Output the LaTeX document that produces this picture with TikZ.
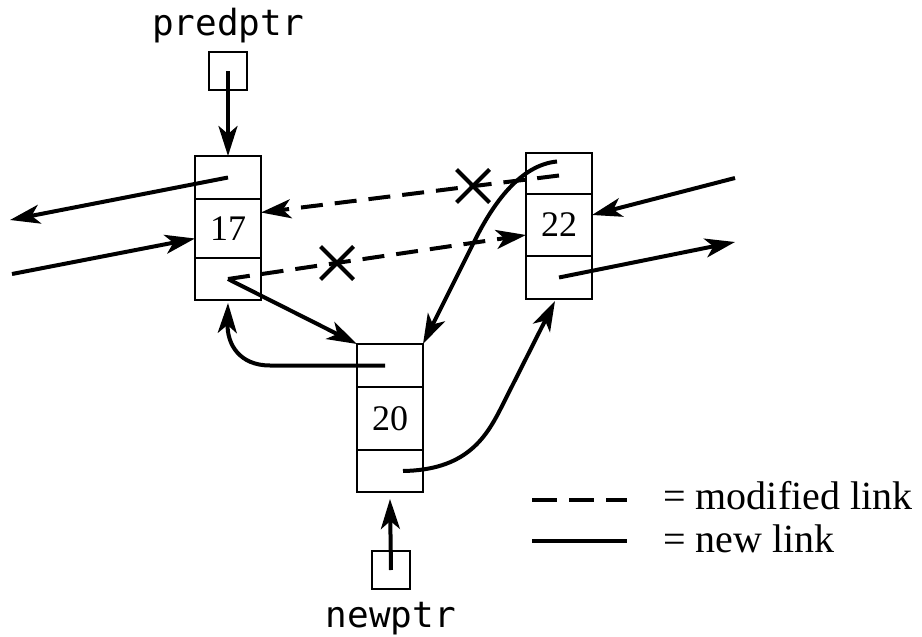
\documentclass[tikz,border=0pt]{standalone}
\usepackage{fontspec}
\setmainfont{Liberation Serif}
\newfontfamily\ptrmono{DejaVu Sans Mono}
\usetikzlibrary{arrows.meta,shapes.misc}
\begin{document}
\begin{tikzpicture}[x=1pt,y=-1pt,
  cell/.style={draw, line width=2.8pt, rectangle, minimum width=66pt, inner sep=0pt, outer sep=0pt},
  ptrbox/.style={draw, line width=2.8pt, rectangle, minimum width=38pt, minimum height=38pt, inner sep=0pt, outer sep=0pt},
  link/.style={line width=4pt, -{Stealth[length=30pt,width=19pt,inset=8pt]}},
  modlink/.style={link, dash pattern=on 22pt off 12pt},
  legendline/.style={line width=4pt},
  xmark/.style={cross out, draw, line width=4pt, minimum size=29pt, inner sep=0pt},
  numlabel/.style={font=\fontsize{36}{40}\selectfont},
  ptrlabel/.style={font=\ptrmono\fontsize{36}{40}\selectfont, inner sep=0pt, anchor=base},
  legendtext/.style={font=\fontsize{40}{44}\selectfont, anchor=base west, inner sep=0pt}
]
\useasboundingbox (0,0) rectangle (922,637);

% node 17
\node[cell, minimum height=43pt] (n17a) at (228,177.5) {};
\node[cell, minimum height=59pt, numlabel] (n17b) at (228,228.5) {17};
\node[cell, minimum height=42pt] (n17c) at (228,279) {};
% node 22
\node[cell, minimum height=41pt] (n22a) at (559,173.5) {};
\node[cell, minimum height=62pt, numlabel] (n22b) at (559,225) {22};
\node[cell, minimum height=43pt] (n22c) at (559,277.5) {};
% node 20
\node[cell, minimum height=43pt] (n20a) at (390,365.5) {};
\node[cell, minimum height=63pt, numlabel] (n20b) at (390,418.5) {20};
\node[cell, minimum height=42pt] (n20c) at (390,471) {};

% pointers
\node[ptrlabel] (plab) at (228,35) {predptr};
\node[ptrbox] (pbox) at (228,71) {};
\node[ptrlabel] (nlab) at (391,627) {newptr};
\node[ptrbox] (nbox) at (391,570) {};

% free ends
\coordinate (fl1) at (10,220);
\coordinate (fl2) at (12,274);
\coordinate (fr1) at (735,178);
\coordinate (fr2) at (735,242);

% pointer arrows
\draw[link] (pbox.center) -- (n17a.north);
\draw[link] (nbox.center) -- ([yshift=-7pt]n20c.south);

% outer links
\draw[link] (n17a.center) -- (fl1);
\draw[link] (fl2) -- ([yshift=-10pt]n17b.west);
\draw[link] (fr1) -- ([yshift=10pt]n22b.east);
\draw[link] (n22c.center) -- (fr2);

% modified links
\draw[modlink] ([yshift=-2pt]n22a.center) -- ([yshift=16pt]n17b.east);
\draw[modlink] (n17c.center) -- ([yshift=-10pt]n22b.west);
\node[xmark] (x1) at (473,186) {};
\node[xmark] (x2) at (337,263) {};

% new links
\draw[link] (n17c.center) -- (n20a.north west);
\draw[link] ([xshift=-2pt,yshift=12pt]n22a.center) .. controls (520,165) and (493,204) .. (475,240) -- (n20a.north east);
\draw[link] ([xshift=-5pt]n20a.center) -- (270,365.5) .. controls (240,365.5) and (227,345) .. ([yshift=-3pt]n17c.south);
\draw[link] ([xshift=13pt]n20c.center) .. controls (465,470) and (485,439) .. (500,410) -- ([xshift=-4pt,yshift=-2pt]n22c.south);

% legend
\coordinate (lg1a) at (532,500);
\coordinate (lg1b) at (627,500);
\coordinate (lg2a) at (532,541);
\coordinate (lg2b) at (627,541);
\draw[legendline, dash pattern=on 25pt off 12pt] (lg1a) -- (lg1b);
\draw[legendline] (lg2a) -- (lg2b);
\node[legendtext] (lt1) at (663,509) {= modified link};
\node[legendtext] (lt2) at (663,552) {= new link};
\end{tikzpicture}
\end{document}
